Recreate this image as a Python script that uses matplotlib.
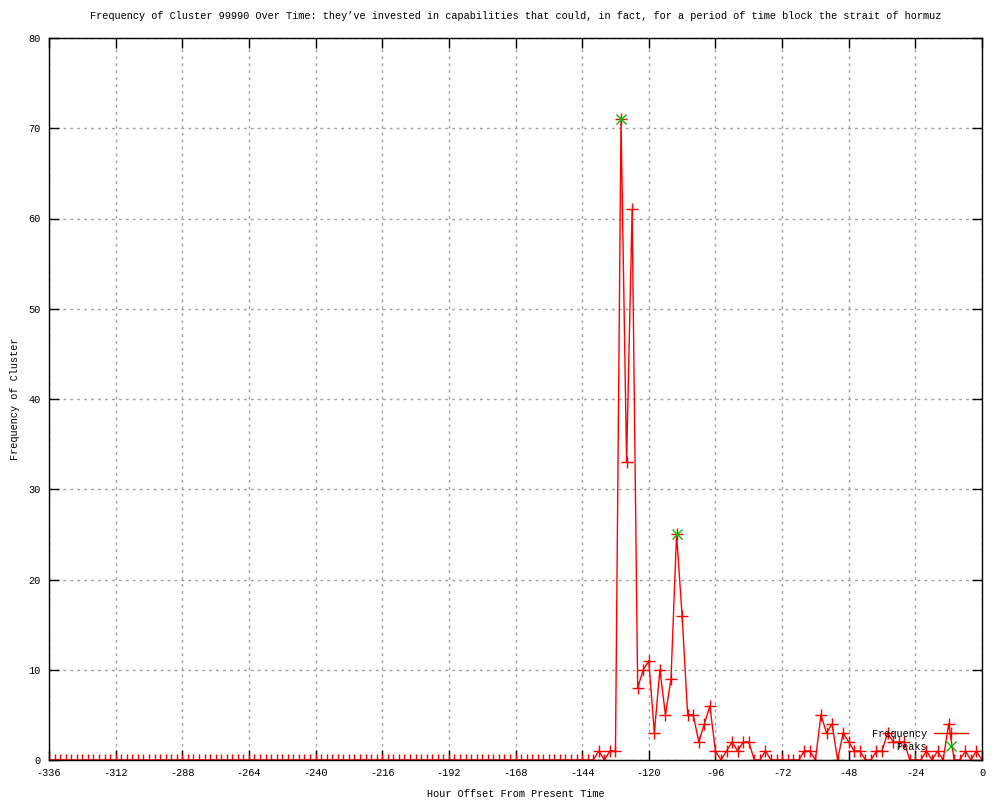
import matplotlib
matplotlib.use("Agg")
import matplotlib.pyplot as plt
import numpy as np

plt.rcParams['font.family'] = ['Liberation Mono', 'DejaVu Sans Mono']
plt.rcParams['axes.unicode_minus'] = False

# hours from -336 to 0, every 2 hours
hours = list(range(-336, 1, 2))

tail_hours = list(range(-138, 1, 2))
tail_counts = [
    1, 0, 1, 1, 71, 33, 61, 8, 10, 11,      # -138 .. -120
    3, 10, 5, 9, 25, 16, 5, 5, 2, 4,        # -118 .. -100
    6, 1, 0, 1, 2, 1, 2, 2, 0, 0,           # -98 .. -80
    1, 0, 0, 0, 0, 0, 0, 1, 1, 0,           # -78 .. -60
    5, 3, 4, 0, 3, 2, 1, 1, 0, 0,           # -58 .. -40
    1, 1, 3, 2, 2, 2, 0, 0, 0, 1,           # -38 .. -20
    0, 1, 0, 4, 0, 0, 1, 0, 1, 0,           # -18 .. 0
]
counts = [0] * (len(hours) - len(tail_hours)) + tail_counts

peak_hours = [-130, -110]
peak_counts = [71, 25]

title = ("Frequency of Cluster 99990 Over Time: they\u2019ve invested in capabilities "
         "that could, in fact, for a period of time block the strait of hormuz")

fs = 7.4

fig = plt.figure(figsize=(10, 8), dpi=100)
ax = fig.add_axes([0.049, 0.05, 0.933, 0.9025])

ax.plot(hours, counts, color="red", lw=1, marker="+", ms=8, mew=1,
        label="Frequency")
ax.plot(peak_hours, peak_counts, ls="none", color="#00c000", marker="x",
        ms=7, mew=1, label="Peaks")

ax.set_xlim(-336, 0)
ax.set_ylim(0, 80)
ax.set_xticks(np.arange(-336, 1, 24))
ax.set_yticks(np.arange(0, 81, 10))
ax.tick_params(direction="in", length=7, width=1, top=True, right=True,
               labelsize=fs, pad=6)
ax.grid(True, color="#a0a0a0", ls=(0, (2, 3)), lw=1)
for s in ax.spines.values():
    s.set_linewidth(1)

ax.set_title(title, fontsize=fs, pad=14)
ax.set_xlabel("Hour Offset From Present Time", fontsize=fs, labelpad=8)
ax.set_ylabel("Frequency of Cluster", fontsize=fs, labelpad=6)

ax.legend(loc="lower right", bbox_to_anchor=(0.992, 0.0025), frameon=False,
          markerfirst=False, fontsize=fs, handlelength=3.3,
          handletextpad=0.7, labelspacing=0.3, borderpad=0.1)

fig.savefig("out.png", dpi=100)
